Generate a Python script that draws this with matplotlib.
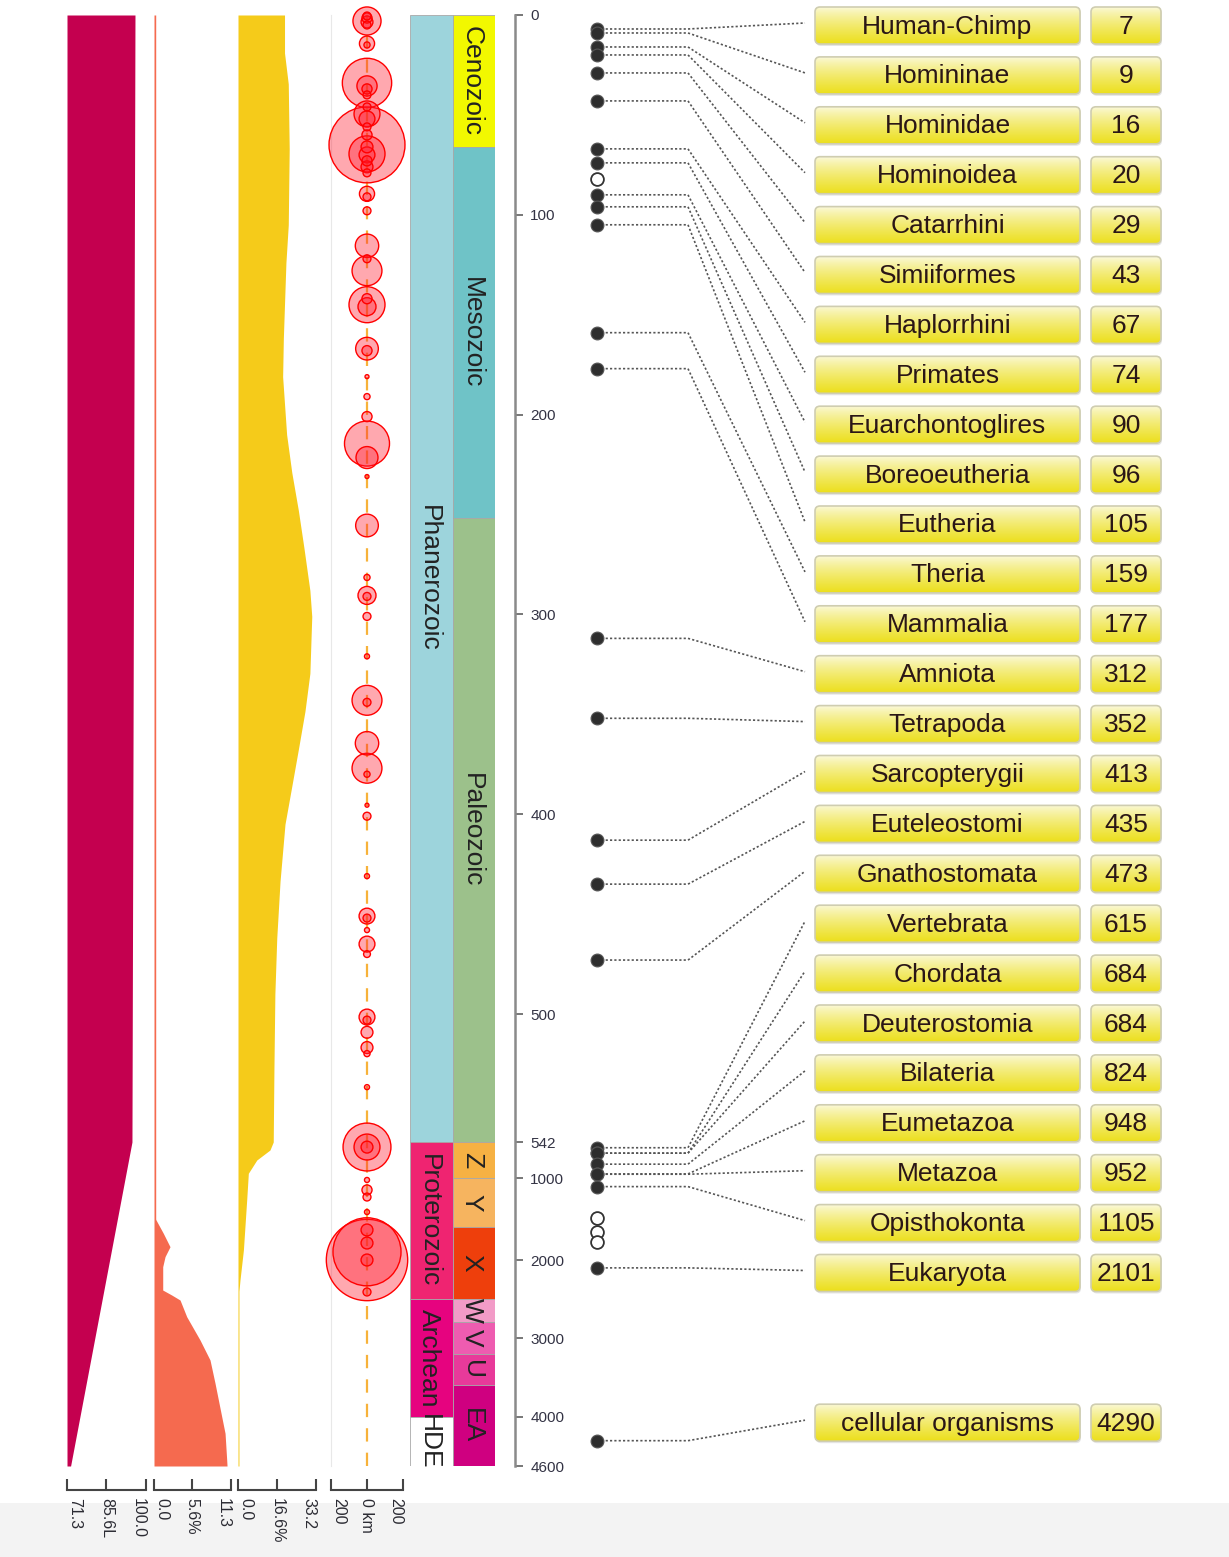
import numpy as np
import matplotlib.pyplot as plt
import matplotlib.colors as mcolors
from matplotlib.patches import FancyBboxPatch, Rectangle

plt.rcParams['font.family'] = ['Liberation Sans', 'DejaVu Sans']

W, H = 1229, 1557
TOP, BOT = 15, 1466

# time (Myr ago) -> pixel row, the source uses a broken/piecewise time axis
T_KNOTS = [0, 500, 542, 1000, 2000, 3000, 4000, 4600]
PX_KNOTS = [15, 1014, 1142, 1178, 1260, 1338, 1417, 1466]
TIME_TICKS = [0, 100, 200, 300, 400, 500, 542, 1000, 2000, 3000, 4000, 4600]

# panel 1: luminosity
lum_t = [0, 542, 4600]
lum_v = [96.0, 94.9, 72.6]

# panel 2 (%)
pa_t = [0, 1500, 1512, 1675, 1838, 1959, 2086, 2385, 2449, 2513, 2727,
        3025, 3278, 3574, 3996, 4200, 4526, 4600]
pa_v = [0.25, 0.25, 0.3, 1.37, 2.35, 1.62, 1.28, 1.28, 2.6, 3.82, 4.8,
        6.75, 8.22, 8.96, 9.94, 10.43, 10.67, 10.72]

# panel 3 (%)
pb_t = [0, 19, 34.5, 67, 105, 124, 162, 181, 210, 229, 248, 267, 288, 301,
        329.5, 348.5, 367.5, 386, 405, 433.5, 462, 490, 518, 542, 644, 771,
        940, 1268, 1878, 2256, 2400, 4600]
pb_v = [19.8, 19.8, 21.4, 21.8, 21.4, 20.4, 19.3, 19.0, 20.7, 22.9, 25.7,
        28.1, 30.6, 31.4, 30.6, 28.5, 25.7, 22.9, 20.0, 17.9, 16.5, 15.7,
        15.3, 15.0, 13.6, 8.0, 4.4, 3.7, 2.3, 0.85, 0.4, 0.4]

# impacts: age (Myr) and radius (km)
impact_t = [0.5, 1.5, 3, 3.5, 5, 14.3, 15, 34, 35.5, 37, 40, 46, 49.5, 52, 56,
            60, 65, 66, 69.5, 70, 73, 76, 79, 89.5, 91, 98, 115.5, 122, 128,
            142, 145, 146, 167, 168, 181, 191, 201, 214.5, 221.5, 231, 255.5,
            281.5, 290.5, 291, 301, 321, 343, 344, 364.5, 377, 380, 395.5,
            401, 431, 451, 452, 458, 465, 470, 501, 502, 506, 511, 513, 524,
            606, 606, 607, 1024, 1146, 1232, 1415, 1634, 1793, 1900, 2000,
            2000, 2410]
impact_r = [22, 28, 78, 33, 22, 42, 17, 137, 56, 28, 22, 22, 72, 44, 22,
            28, 211, 33, 100, 44, 28, 33, 22, 42, 22, 22, 65, 22, 83,
            28, 100, 50, 63, 28, 11, 17, 28, 125, 61, 11, 63,
            17, 50, 22, 22, 14, 83, 22, 65, 83, 17, 11,
            22, 14, 44, 22, 14, 44, 19, 44, 22, 33, 33, 17, 14,
            133, 72, 33, 14, 28, 22, 14, 33, 33, 189, 226,
            33, 22]

eon_names = ['Phanerozoic', 'Proterozoic', 'Archean', 'HDE']
eon_bounds = [0, 542, 2500, 4000, 4600]
eon_colors = ['#9DD4DC', '#EF2471', '#E6037F', '#FFFFFF']

era_names = ['Cenozoic', 'Mesozoic', 'Paleozoic', 'Z', 'Y', 'X', 'W', 'V', 'U', 'EA']
era_bounds = [0, 66, 252, 542, 1000, 1600, 2500, 2800, 3200, 3600, 4600]
era_colors = ['#F2F800', '#6FC3C7', '#9CC18B', '#F6B143', '#F6B45F', '#EE3F0C',
              '#F29BC7', '#EE5CB0', '#E83A9A', '#CF0080']

clade_names = ['Human-Chimp', 'Homininae', 'Hominidae', 'Hominoidea', 'Catarrhini',
               'Simiiformes', 'Haplorrhini', 'Primates', 'Euarchontoglires',
               'Boreoeutheria', 'Eutheria', 'Theria', 'Mammalia', 'Amniota',
               'Tetrapoda', 'Sarcopterygii', 'Euteleostomi', 'Gnathostomata',
               'Vertebrata', 'Chordata', 'Deuterostomia', 'Bilateria', 'Eumetazoa',
               'Metazoa', 'Opisthokonta', 'Eukaryota', 'cellular organisms']
clade_ages = [7, 9, 16, 20, 29, 43, 67, 74, 90, 96, 105, 159, 177, 312, 352, 413,
              435, 473, 615, 684, 684, 824, 948, 952, 1105, 2101, 4290]
clade_slot = list(range(26)) + [28]
open_ages = [82, 1488, 1659, 1780]

# piecewise scale, linearly extended beyond the ends
_t = np.array([-1e5] + T_KNOTS + [1e5], dtype=float)
_p = np.array([PX_KNOTS[0] - 1e5 * (PX_KNOTS[1] - PX_KNOTS[0]) / 500] + PX_KNOTS +
              [PX_KNOTS[-1] + (1e5 - 4600) * (PX_KNOTS[-1] - PX_KNOTS[-2]) / 600])


def t2px(t):
    return np.interp(t, _t, _p)


def px2t(p):
    return np.interp(p, _p, _t)


fig = plt.figure(figsize=(W / 100, H / 100), dpi=100)
fig.patches.append(Rectangle((0, 0), 1, 54 / H, transform=fig.transFigure,
                             facecolor='#F3F3F3', edgecolor='none', zorder=-5))


def px_axes(x0, x1, y0=TOP, y1=BOT):
    ax = fig.add_axes([x0 / W, 1 - y1 / H, (x1 - x0) / W, (y1 - y0) / H])
    ax.set_facecolor('none')
    return ax


def time_axes(x0, x1):
    ax = px_axes(x0, x1)
    ax.set_yscale('function', functions=(t2px, px2t))
    ax.set_ylim(4600, 0)
    ax.set_yticks([])
    ax.set_xticks([])
    for s in ax.spines.values():
        s.set_visible(False)
    return ax


def bracket(ax, ticks, labels):
    sp = ax.spines['bottom']
    sp.set_visible(True)
    sp.set_position(('outward', 17))
    sp.set_color('#444444')
    sp.set_linewidth(1.5)
    ax.set_xticks(ticks, labels, rotation=-90)
    ax.tick_params(axis='x', direction='in', length=8, width=1.5, color='#444444',
                   labelcolor='#2b2b33', labelsize=11.5, pad=6)
    tl = ax.get_xticklabels()
    tl[0].set_ha('left')
    tl[-1].set_ha('right')


# panel 1
ax1 = time_axes(67, 146)
ax1.set_xlim(71.3, 100.0)
ax1.fill_betweenx(lum_t, 71.3, lum_v, color='#C4004F', lw=0)
bracket(ax1, [71.3, 85.6, 100.0], ['71.3', '85.6L', '100.0'])

# panel 2
ax2 = time_axes(154, 231)
ax2.set_xlim(0, 11.3)
ax2.fill_betweenx(pa_t, 0, pa_v, color='#F56A4F', lw=0)
bracket(ax2, [0, 5.6, 11.3], ['0.0', '5.6%', '11.3'])

# panel 3
ax3 = time_axes(238, 316)
ax3.set_xlim(0, 33.2)
ax3.fill_betweenx(pb_t, 0, pb_v, color='#F5CB1A', lw=0)
bracket(ax3, [0, 16.6, 33.2], ['0.0', '16.6%', '33.2'])

# impacts
axb = time_axes(331, 403)
axb.set_xlim(-200, 200)
axb.spines['left'].set_visible(True)
axb.spines['left'].set_color('#E8E8E8')
axb.axvline(0, color='#F7B23A', lw=1.6, ls=(0, (6, 5)), zorder=1)
px_per_km = axb.transData.transform((1, 0))[0] - axb.transData.transform((0, 0))[0]
order = np.argsort(impact_r)[::-1]
it = np.array(impact_t)[order]
ir = np.array(impact_r)[order]
sizes = (2 * ir * px_per_km * 72 / 100) ** 2
axb.scatter(np.zeros(len(it)), it, s=sizes, facecolor=(1, 0.1, 0.18, 0.38),
            edgecolor='#FF0000', linewidths=1.0, zorder=3, clip_on=False)
bracket(axb, [-200, 0, 200], ['200', '0 km', '200'])

# eons / eras
axg = time_axes(410, 495)
axg.set_xlim(0, 2)
for names, bounds, colors, xc in [(eon_names, eon_bounds, eon_colors, 0.5),
                                  (era_names, era_bounds, era_colors, 1.5)]:
    for name, b0, b1, c in zip(names, bounds[:-1], bounds[1:], colors):
        axg.bar(xc, b1 - b0, bottom=b0, width=1, color=c, edgecolor='#A8A8A8',
                linewidth=0.6)
        mid = px2t(0.5 * (t2px(b0) + t2px(b1)))
        axg.text(xc - 0.05, mid, name, rotation=-90, ha='center', va='center',
                 fontsize=19, color='#222222', clip_on=False)

# time axis
axt = time_axes(505, 515)
axt.spines['right'].set_visible(True)
axt.spines['right'].set_color('#8A8A8A')
axt.spines['right'].set_linewidth(1.8)
axt.yaxis.tick_right()
axt.set_yticks(TIME_TICKS, [str(t) for t in TIME_TICKS])
axt.tick_params(axis='y', direction='out', length=6, width=1.4, color='#777777',
                labelcolor='#333344', labelsize=11, pad=5)

# clade dots
DOT_X, ELBOW_X, LINK_X = 597, 688, 805
axr = time_axes(515, 800)
axr.set_xlim(515, 800)
axr.set_zorder(3)
axr.scatter([DOT_X] * len(clade_ages), clade_ages, s=85, facecolor='#2E2E2E',
            edgecolor='#555555', linewidths=0.8, zorder=4, clip_on=False)
axr.scatter([DOT_X] * len(open_ages), open_ages, s=85, facecolor='white',
            edgecolor='#333333', linewidths=1.3, zorder=4, clip_on=False)

# label overlay in pixel units
axl = fig.add_axes([0, 0, 1, 1])
axl.set_facecolor('none')
axl.set_zorder(2)

NAME_X0, NAME_W = 815, 265
NUM_X0, NUM_W = 1091, 70
BOX_H = 37
SLOT_Y0, SLOT_DY = 25.5, 49.9

c_top = np.array(mcolors.to_rgb('#FBF9DA'))
c_bot = np.array(mcolors.to_rgb('#ECDF1C'))
g = np.linspace(0, 1, 64) ** 0.8
grad = (c_top + (c_bot - c_top) * g[:, None])[:, None, :]


def gbox(x0, yc, w, text):
    y0 = yc - BOX_H / 2
    shadow = FancyBboxPatch((x0 + 1, y0 + 2), w, BOX_H,
                            boxstyle='round,pad=0,rounding_size=5',
                            facecolor='#000000', alpha=0.10, edgecolor='none', zorder=1)
    axl.add_patch(shadow)
    box = FancyBboxPatch((x0, y0), w, BOX_H, boxstyle='round,pad=0,rounding_size=5',
                         facecolor='none', edgecolor='#CFCDB0', linewidth=1.2, zorder=3)
    axl.add_patch(box)
    im = axl.imshow(grad, extent=[x0, x0 + w, y0 + BOX_H, y0], aspect='auto',
                    interpolation='bilinear', zorder=2)
    im.set_clip_path(box)
    axl.text(x0 + w / 2, yc + 1, text, ha='center', va='center', fontsize=19,
             color='#2A1616', zorder=4)


for name, age, slot in zip(clade_names, clade_ages, clade_slot):
    yc = SLOT_Y0 + SLOT_DY * slot
    gbox(NAME_X0, yc, NAME_W, name)
    gbox(NUM_X0, yc, NUM_W, str(age))

axl.set_xlim(0, W)
axl.set_ylim(H, 0)
axl.axis('off')

# connectors from dots to labels
inv = axl.transData.inverted()
for age, slot in zip(clade_ages, clade_slot):
    yd = inv.transform(axr.transData.transform((DOT_X, age)))[1]
    yc = SLOT_Y0 + SLOT_DY * slot - 2.5
    axl.plot([DOT_X, ELBOW_X, LINK_X], [yd, yd, yc], color='#555555', lw=1.2,
             ls=(0, (1.3, 1.3)), zorder=1)

fig.savefig('out.png', dpi=100)
